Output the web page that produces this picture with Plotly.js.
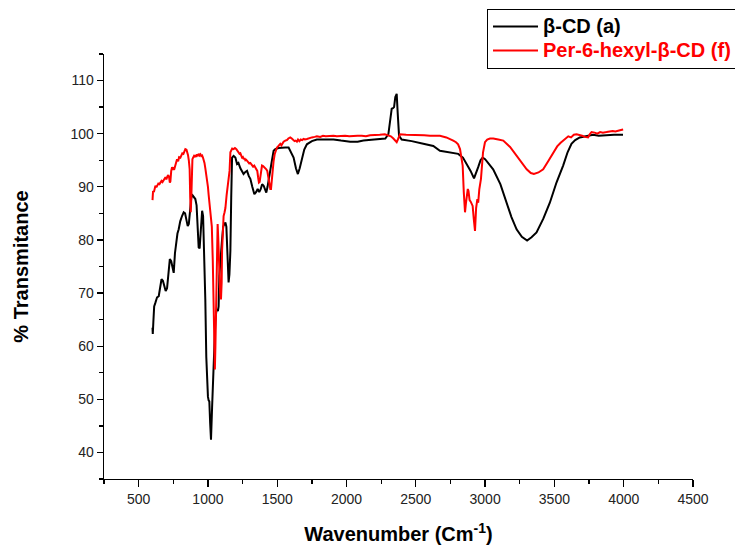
<!DOCTYPE html>
<html>
<head>
<meta charset="utf-8">
<script src="https://cdn.plot.ly/plotly-3.0.1.min.js"></script>
<style>html,body{margin:0;padding:0;background:#fff;}#chart{width:735px;height:545px;}</style>
</head>
<body>
<div id="chart"></div>
<script>
// beta-CD (a)
var blackX = [600,602,606,612,621,633,645,655,665,675,685,695,705,715,725,735,745,753,762,772,780,789,800,813,825,835,845,854,862,870,880,889,900,909,918,926,933,940,946,952,958,965,972,981,988,994,1000,1005,1010,1016,1022,1030,1037,1045,1053,1060,1066,1072,1077,1082,1090,1101,1110,1118,1126,1133,1140,1149,1155,1162,1168,1174,1185,1198,1210,1220,1234,1245,1257,1270,1282,1295,1306,1320,1335,1347,1359,1370,1380,1391,1402,1412,1421,1430,1438,1450,1462,1474,1486,1510,1534,1558,1582,1600,1618,1635,1649,1662,1678,1695,1714,1750,1786,1850,1906,1960,2026,2080,2122,2200,2280,2302,2315,2326,2335,2343,2352,2362,2369,2374,2379,2398,2470,2554,2626,2674,2740,2806,2840,2867,2895,2920,2935,2950,2967,2982,3000,3030,3058,3110,3155,3190,3227,3265,3303,3335,3371,3420,3467,3515,3563,3595,3623,3650,3683,3720,3779,3820,3870,3930,3995];
var blackY = [63.5,62.3,64.5,67.5,68.2,69.2,69.4,70.8,72.6,72.3,71.0,70.4,70.9,74.5,76.4,76.0,74.5,73.8,77.5,80.1,81.2,82.0,83.5,84.5,85.2,85.0,83.5,82.6,83.0,85.5,88.0,88.4,88.0,87.7,86.5,82,78.6,78.4,81,85,85.5,84.5,79,68.8,58,51.2,50.5,49.8,49.6,45.5,42.4,48.5,54,61,64.5,66.5,67.0,66.6,67.5,73.2,77,79.8,82.5,83,83.3,82.5,78,72,73.5,78,88,95.5,95.8,95.5,94.3,94.5,93.5,93,92.4,92.8,93,92,91.5,90,88.6,89,89.6,89,89.5,90.5,90.2,89.5,88.9,90,91.1,93,95,96.8,97.1,97.3,97.4,97.4,97.4,96.5,95.5,93.5,92.4,93.5,95.2,97,98,98.6,98.9,98.9,98.9,98.7,98.5,98.5,98.7,98.9,99.1,99.9,102.5,104.7,104.8,105,106.9,107.5,104,101,99.6,98.9,98.6,98.1,97.7,96.8,96.5,96.2,95.5,94.3,93,91.6,92.5,93.7,95,95.5,95.2,94.3,93.3,90.5,87,84.3,82,80.6,79.9,80.5,81.4,84,87,90.8,94,96.5,98.1,98.8,99.3,99.5,99.8,99.6,99.7,99.8,99.8];

// Per-6-hexyl-beta-CD (f)
var redX = [600,602,604,610,615,621,628,635,642,650,657,665,672,680,687,693,700,708,714,720,725,729,735,741,748,753,758,765,770,777,785,792,801,808,815,823,830,837,845,850,856,862,868,872,876,880,884,888,893,899,905,911,916,922,928,933,940,946,952,958,964,969,975,981,987,994,1000,1005,1012,1020,1028,1035,1041,1046,1050,1054,1058,1062,1067,1070,1074,1078,1082,1088,1094,1099,1102,1106,1113,1120,1126,1135,1142,1149,1156,1162,1167,1175,1185,1195,1205,1213,1221,1228,1234,1240,1246,1252,1258,1264,1270,1276,1282,1290,1298,1306,1312,1318,1326,1334,1342,1350,1356,1362,1368,1373,1380,1386,1390,1398,1406,1414,1421,1428,1436,1444,1450,1455,1460,1466,1474,1482,1490,1498,1506,1514,1522,1530,1538,1546,1558,1570,1580,1594,1605,1615,1625,1633,1642,1650,1660,1670,1680,1690,1700,1714,1730,1750,1770,1786,1810,1830,1850,1880,1906,1930,1960,1990,2020,2050,2080,2110,2140,2170,2200,2240,2276,2300,2320,2338,2352,2362,2372,2386,2430,2500,2560,2602,2674,2720,2750,2770,2790,2805,2819,2830,2838,2846,2855,2862,2869,2875,2880,2888,2896,2904,2910,2918,2927,2935,2944,2950,2958,2970,2985,2999,3015,3035,3059,3095,3131,3180,3227,3265,3300,3330,3352,3385,3419,3455,3491,3520,3545,3563,3580,3600,3620,3640,3660,3680,3700,3720,3743,3755,3768,3790,3810,3830,3850,3876,3900,3920,3940,3960,3980,3996];
var redY = [87.5,88.3,89.2,89.0,89.8,90.2,89.9,90.4,90.6,90.5,90.8,91.1,90.9,91.4,91.5,91.8,91.4,92.0,92.2,91.8,90.8,91.0,93.0,93.7,93.2,93.5,93.4,94.3,94.6,95.2,94.8,95.6,95.5,96.0,96.3,96.2,96.8,97.1,97.0,96.7,96.0,95.0,93.3,88,85.2,88,93,95.2,95.5,95.8,95.6,96.0,95.6,96.1,95.8,96.2,95.9,96.1,95.8,95.9,95.5,95.2,94.5,93.5,92.5,91.5,90,88.5,87,85.2,82.5,76,66,56.5,55.6,60,68,76,82,83,80.5,77,75,70,68.8,72,78,82.6,84.5,85.2,86,88.5,90,90.8,93,96.5,96.8,97.2,97.1,97.3,97.1,96.8,96.5,96.2,96.3,95.8,95.5,95.6,95.2,95.4,95.0,95.1,94.9,94.7,94.4,94.5,94.2,94.0,93.8,94.0,93.6,93.5,93.0,91.8,90.8,90.9,92.5,93.5,94,93.9,93.7,93.6,93.3,93.0,91.8,90.4,89.6,89.6,91.5,93.5,94.9,96.2,97.0,97.4,97.6,98.0,98.1,97.8,98.3,98.5,98.7,98.8,99.1,99.3,99.1,98.8,98.6,98.7,98.5,98.9,98.6,98.9,98.8,99.0,98.9,99.0,99.2,99.3,99.4,99.5,99.4,99.6,99.5,99.6,99.6,99.5,99.6,99.6,99.5,99.6,99.6,99.6,99.5,99.7,99.7,99.8,99.9,99.7,99.5,99.1,98.6,98.4,99.0,99.9,99.8,99.8,99.7,99.6,99.6,99.3,99.0,98.7,98.4,98.0,97.1,95.5,94,89,85.2,87,89.2,89.6,89.2,87.5,87.2,86.6,86.4,84,81.7,86,87.7,87,89.5,91.5,96.5,98.4,98.9,99.1,99.1,98.9,98.7,97.5,95.8,94.4,93.3,92.6,92.4,92.7,93.3,94.8,96.5,97.6,98.3,98.7,99.2,99.5,99.3,99.8,99.9,99.8,99.6,99.4,99.3,99.9,100.3,100.2,100.0,100.3,100.2,100.3,100.4,100.5,100.4,100.6,100.7,100.8];

var seriesNames = ['<span style="font-size:20px"><b>β-CD (a)</b></span>', '<span style="font-size:20px;color:#ff0000"><b>Per-6-hexyl-β-CD (f)</b></span>'];
var xTitle = '<b>Wavenumber (Cm<sup>-1</sup>)</b>';
var yTitle = '<b>% Transmitance</b>';

var traces = [
  {x: blackX, y: blackY, type: 'scatter', mode: 'lines', name: seriesNames[0],
   line: {color: '#000000', width: 2}},
  {x: redX, y: redY, type: 'scatter', mode: 'lines', name: seriesNames[1],
   line: {color: '#ff0000', width: 2}}
];

var font = 'Liberation Sans, Arial, sans-serif';
var layout = {
  width: 735, height: 545,
  paper_bgcolor: '#ffffff', plot_bgcolor: '#ffffff',
  margin: {l: 104, r: 42, t: 54, b: 66, pad: 0, autoexpand: false},
  font: {family: font, color: '#000', size: 14},
  showlegend: true,
  legend: {
    xref: 'container', yref: 'container',
    x: 0.6626, y: 0.984, xanchor: 'left', yanchor: 'top',
    bordercolor: '#000', borderwidth: 1, bgcolor: '#fff',
    font: {family: font, size: 16, color: '#000'},
    itemwidth: 45, tracegroupgap: 0
  },
  xaxis: {
    range: [250, 4500], tick0: 500, dtick: 500,
    showline: true, linecolor: '#000', linewidth: 1.3,
    showgrid: false, zeroline: false,
    ticks: 'outside', ticklen: 7, tickwidth: 1.3, tickcolor: '#000',
    tickfont: {family: font, size: 14, color: '#222'},
    minor: {dtick: 250, ticks: 'outside', ticklen: 4, tickwidth: 1.3, tickcolor: '#000', showgrid: false},
    title: {text: xTitle, font: {family: font, size: 20, color: '#000'}, standoff: 23},
    automargin: false
  },
  yaxis: {
    range: [35, 115], tick0: 0, dtick: 10,
    showline: true, linecolor: '#000', linewidth: 1.3,
    showgrid: false, zeroline: false,
    ticks: 'outside', ticklen: 6, tickwidth: 1.3, tickcolor: '#000',
    tickfont: {family: font, size: 14, color: '#222'},
    minor: {dtick: 5, ticks: 'outside', ticklen: 4, tickwidth: 1.3, tickcolor: '#000', showgrid: false},
    title: {text: yTitle, font: {family: font, size: 20, color: '#000'}, standoff: 36},
    automargin: false
  }
};

Plotly.newPlot('chart', traces, layout, {displayModeBar: false, staticPlot: true});
</script>
</body>
</html>
